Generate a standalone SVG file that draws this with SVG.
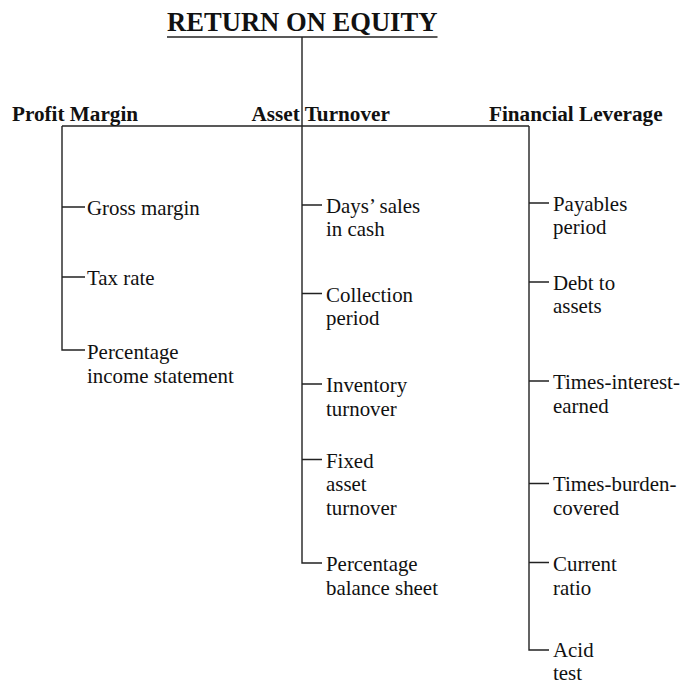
<svg xmlns="http://www.w3.org/2000/svg" width="682" height="685" viewBox="0 0 682 685">
<style>
.t{font-family:"Liberation Serif","Times New Roman",serif;fill:#111}
.title{font-size:26.6px;font-weight:bold}
.h{font-size:21.2px;font-weight:bold}
.i{font-size:20.9px}
.ln{stroke:#222;stroke-width:1.4;fill:none}
</style>
<rect width="682" height="685" fill="#fff"/>
<g id="root">
<text class="t title" x="167" y="31">RETURN ON EQUITY</text>
<line class="ln" x1="167" y1="37" x2="437.5" y2="37" stroke-width="1.6"/>
</g>
<g id="connectors">
<path class="ln" d="M302 37V563H322"/>
<path class="ln" d="M62 126H529"/>
<path class="ln" d="M62 126V350H85M62 207H85M62 277H85"/>
<path class="ln" d="M302 205H322M302 293.5H322M302 384H322M302 459.5H322"/>
<path class="ln" d="M529 126V650H549M529 203H549M529 282H549M529 381H549M529 483.5H549M529 562.5H549"/>
</g>
<g id="profit-margin"><text class="t h" x="12" y="121">Profit Margin</text></g>
<g id="asset-turnover"><text class="t h" x="251.5" y="121">Asset Turnover</text></g>
<g id="financial-leverage"><text class="t h" x="489" y="121">Financial Leverage</text></g>
<g id="gross-margin"><text class="t i" x="87" y="215">Gross margin</text></g>
<g id="tax-rate"><text class="t i" x="87" y="285">Tax rate</text></g>
<g id="pct-income"><text class="t i" x="87" y="359"><tspan x="87">Percentage</tspan><tspan x="87" dy="23.5">income statement</tspan></text></g>
<g id="days-sales"><text class="t i" x="326" y="212.5"><tspan x="326">Days’ sales</tspan><tspan x="326" dy="23.5">in cash</tspan></text></g>
<g id="collection"><text class="t i" x="326" y="301.5"><tspan x="326">Collection</tspan><tspan x="326" dy="23.5">period</tspan></text></g>
<g id="inventory"><text class="t i" x="326" y="392"><tspan x="326">Inventory</tspan><tspan x="326" dy="23.5">turnover</tspan></text></g>
<g id="fixed-asset"><text class="t i" x="326" y="467.5"><tspan x="326">Fixed</tspan><tspan x="326" dy="23.7">asset</tspan><tspan x="326" dy="23.7">turnover</tspan></text></g>
<g id="pct-balance"><text class="t i" x="326" y="571"><tspan x="326">Percentage</tspan><tspan x="326" dy="23.5">balance sheet</tspan></text></g>
<g id="payables"><text class="t i" x="553" y="210.5"><tspan x="553">Payables</tspan><tspan x="553" dy="23.5">period</tspan></text></g>
<g id="debt-assets"><text class="t i" x="553" y="289.5"><tspan x="553">Debt to</tspan><tspan x="553" dy="23.5">assets</tspan></text></g>
<g id="times-interest"><text class="t i" x="553" y="389"><tspan x="553">Times-interest-</tspan><tspan x="553" dy="23.5">earned</tspan></text></g>
<g id="times-burden"><text class="t i" x="553" y="491"><tspan x="553">Times-burden-</tspan><tspan x="553" dy="23.5">covered</tspan></text></g>
<g id="current-ratio"><text class="t i" x="553" y="571"><tspan x="553">Current</tspan><tspan x="553" dy="23.5">ratio</tspan></text></g>
<g id="acid-test"><text class="t i" x="553" y="656.5"><tspan x="553">Acid</tspan><tspan x="553" dy="23.5">test</tspan></text></g>
</svg>
